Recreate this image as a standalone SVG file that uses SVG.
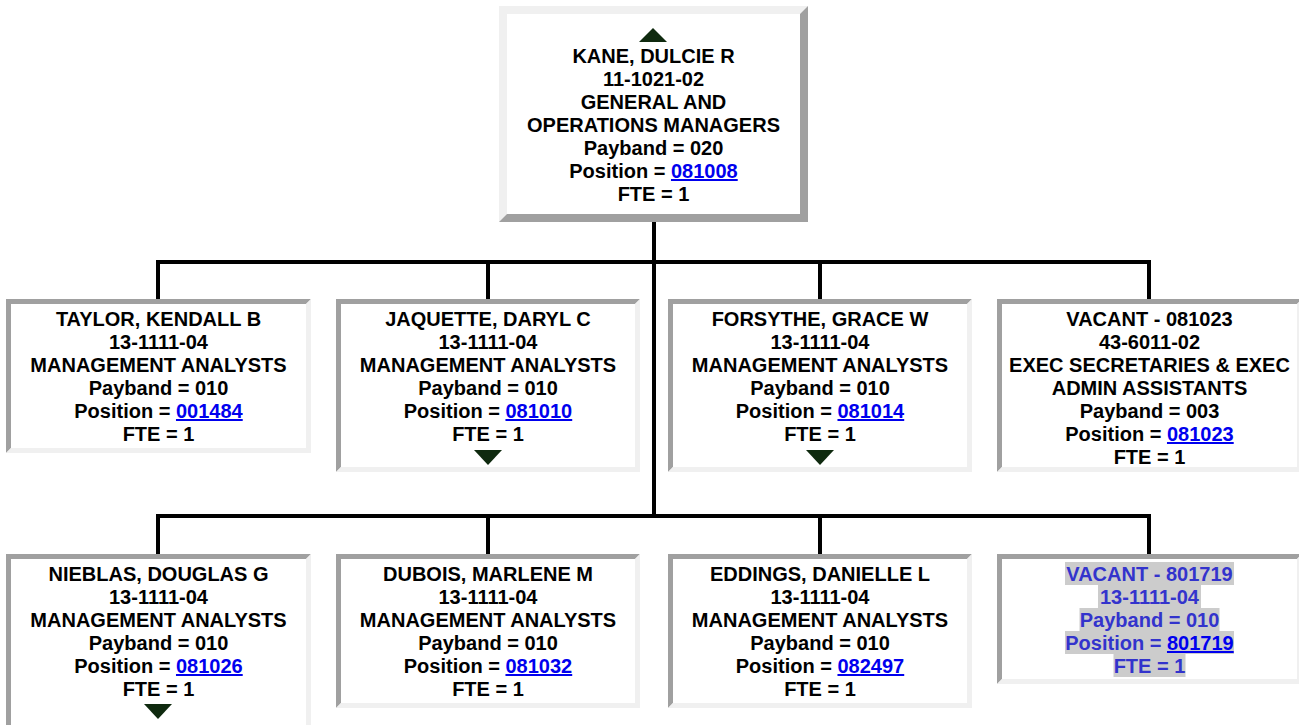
<svg xmlns="http://www.w3.org/2000/svg" width="1299" height="725" viewBox="0 0 1299 725">
<style>
.dk{fill:#a0a0a0}
.lt{fill:#f0f0f0}
.in{fill:#ffffff}
.t{font-family:"Liberation Sans",Arial,sans-serif;font-weight:bold;font-size:20px;text-anchor:middle;fill:#000}
.v{fill:#3333cc}
.lk{fill:#0000ee;text-decoration:underline}
.hl{fill:#cccccc}
.ar{fill:#0f2a0f}
.cn{fill:none;stroke:#000;stroke-width:4;stroke-linecap:square}
</style>
<rect width="1299" height="725" fill="#fff"/>
<g id="connectors">
<path class="cn" d="M654,222 V516 M158,262 H1149 M158,262 V299 M488,262 V299 M820,262 V299 M1149,262 V299 M158,516 H1149 M158,516 V554 M488,516 V554 M820,516 V554 M1149,516 V554"/>
</g>
<g id="kane">
<polygon class="lt" points="499,6 808,6 800,14 507,14 507,214 499,222"/>
<polygon class="dk" points="808,6 808,222 499,222 507,214 800,214 800,14"/>
<rect class="in" x="507" y="14" width="293" height="200"/>
<polygon class="ar" points="639,42 667,42 653,28"/>
<text class="t"><tspan x="653.5" y="63">KANE, DULCIE R</tspan><tspan x="653.5" y="86">11-1021-02</tspan><tspan x="653.5" y="109">GENERAL AND</tspan><tspan x="653.5" y="132">OPERATIONS MANAGERS</tspan><tspan x="653.5" y="155">Payband = 020</tspan><tspan x="653.5" y="178">Position = <tspan class="lk">081008</tspan></tspan><tspan x="653.5" y="201">FTE = 1</tspan></text>
</g>
<g id="taylor">
<polygon class="dk" points="6,299 311,299 306,304 11,304 11,448 6,453"/>
<polygon class="lt" points="311,299 311,453 6,453 11,448 306,448 306,304"/>
<rect class="in" x="11" y="304" width="295" height="144"/>
<text class="t"><tspan x="158.5" y="326">TAYLOR, KENDALL B</tspan><tspan x="158.5" y="349">13-1111-04</tspan><tspan x="158.5" y="372">MANAGEMENT ANALYSTS</tspan><tspan x="158.5" y="395">Payband = 010</tspan><tspan x="158.5" y="418">Position = <tspan class="lk">001484</tspan></tspan><tspan x="158.5" y="441">FTE = 1</tspan></text>
</g>
<g id="jaquette">
<polygon class="dk" points="336,299 640,299 635,304 341,304 341,467 336,472"/>
<polygon class="lt" points="640,299 640,472 336,472 341,467 635,467 635,304"/>
<rect class="in" x="341" y="304" width="294" height="163"/>
<text class="t"><tspan x="488" y="326">JAQUETTE, DARYL C</tspan><tspan x="488" y="349">13-1111-04</tspan><tspan x="488" y="372">MANAGEMENT ANALYSTS</tspan><tspan x="488" y="395">Payband = 010</tspan><tspan x="488" y="418">Position = <tspan class="lk">081010</tspan></tspan><tspan x="488" y="441">FTE = 1</tspan></text>
<polygon class="ar" points="474,450 502,450 488,465"/>
</g>
<g id="forsythe">
<polygon class="dk" points="668,299 972,299 967,304 673,304 673,467 668,472"/>
<polygon class="lt" points="972,299 972,472 668,472 673,467 967,467 967,304"/>
<rect class="in" x="673" y="304" width="294" height="163"/>
<text class="t"><tspan x="820" y="326">FORSYTHE, GRACE W</tspan><tspan x="820" y="349">13-1111-04</tspan><tspan x="820" y="372">MANAGEMENT ANALYSTS</tspan><tspan x="820" y="395">Payband = 010</tspan><tspan x="820" y="418">Position = <tspan class="lk">081014</tspan></tspan><tspan x="820" y="441">FTE = 1</tspan></text>
<polygon class="ar" points="806,450 834,450 820,465"/>
</g>
<g id="vacant-081023">
<polygon class="dk" points="997,299 1302,299 1297,304 1002,304 1002,467 997,472"/>
<polygon class="lt" points="1302,299 1302,472 997,472 1002,467 1297,467 1297,304"/>
<rect class="in" x="1002" y="304" width="295" height="163"/>
<text class="t"><tspan x="1149.5" y="326">VACANT - 081023</tspan><tspan x="1149.5" y="349">43-6011-02</tspan><tspan x="1149.5" y="372">EXEC SECRETARIES &amp; EXEC</tspan><tspan x="1149.5" y="395">ADMIN ASSISTANTS</tspan><tspan x="1149.5" y="418">Payband = 003</tspan><tspan x="1149.5" y="441">Position = <tspan class="lk">081023</tspan></tspan><tspan x="1149.5" y="464">FTE = 1</tspan></text>
</g>
<g id="nieblas">
<polygon class="dk" points="6,554 311,554 306,559 11,559 11,729 6,734"/>
<polygon class="lt" points="311,554 311,734 6,734 11,729 306,729 306,559"/>
<rect class="in" x="11" y="559" width="295" height="170"/>
<text class="t"><tspan x="158.5" y="581">NIEBLAS, DOUGLAS G</tspan><tspan x="158.5" y="604">13-1111-04</tspan><tspan x="158.5" y="627">MANAGEMENT ANALYSTS</tspan><tspan x="158.5" y="650">Payband = 010</tspan><tspan x="158.5" y="673">Position = <tspan class="lk">081026</tspan></tspan><tspan x="158.5" y="696">FTE = 1</tspan></text>
<polygon class="ar" points="144,704 172,704 158,719"/>
</g>
<g id="dubois">
<polygon class="dk" points="336,554 640,554 635,559 341,559 341,703 336,708"/>
<polygon class="lt" points="640,554 640,708 336,708 341,703 635,703 635,559"/>
<rect class="in" x="341" y="559" width="294" height="144"/>
<text class="t"><tspan x="488" y="581">DUBOIS, MARLENE M</tspan><tspan x="488" y="604">13-1111-04</tspan><tspan x="488" y="627">MANAGEMENT ANALYSTS</tspan><tspan x="488" y="650">Payband = 010</tspan><tspan x="488" y="673">Position = <tspan class="lk">081032</tspan></tspan><tspan x="488" y="696">FTE = 1</tspan></text>
</g>
<g id="eddings">
<polygon class="dk" points="668,554 972,554 967,559 673,559 673,703 668,708"/>
<polygon class="lt" points="972,554 972,708 668,708 673,703 967,703 967,559"/>
<rect class="in" x="673" y="559" width="294" height="144"/>
<text class="t"><tspan x="820" y="581">EDDINGS, DANIELLE L</tspan><tspan x="820" y="604">13-1111-04</tspan><tspan x="820" y="627">MANAGEMENT ANALYSTS</tspan><tspan x="820" y="650">Payband = 010</tspan><tspan x="820" y="673">Position = <tspan class="lk">082497</tspan></tspan><tspan x="820" y="696">FTE = 1</tspan></text>
</g>
<g id="vacant-801719">
<polygon class="dk" points="997,554 1302,554 1297,559 1002,559 1002,679 997,684"/>
<polygon class="lt" points="1302,554 1302,684 997,684 1002,679 1297,679 1297,559"/>
<rect class="in" x="1002" y="559" width="295" height="120"/>
<rect class="hl" x="1065" y="562" width="169" height="23"/>
<rect class="hl" x="1098" y="585" width="103" height="23"/>
<rect class="hl" x="1079.5" y="608" width="140" height="23"/>
<rect class="hl" x="1065" y="631" width="169" height="23"/>
<rect class="hl" x="1113.5" y="654" width="72" height="23"/>
<text class="t v"><tspan x="1149.5" y="581">VACANT - 801719</tspan><tspan x="1149.5" y="604">13-1111-04</tspan><tspan x="1149.5" y="627">Payband = 010</tspan><tspan x="1149.5" y="650">Position = <tspan class="lk">801719</tspan></tspan><tspan x="1149.5" y="673">FTE = 1</tspan></text>
</g>
</svg>
